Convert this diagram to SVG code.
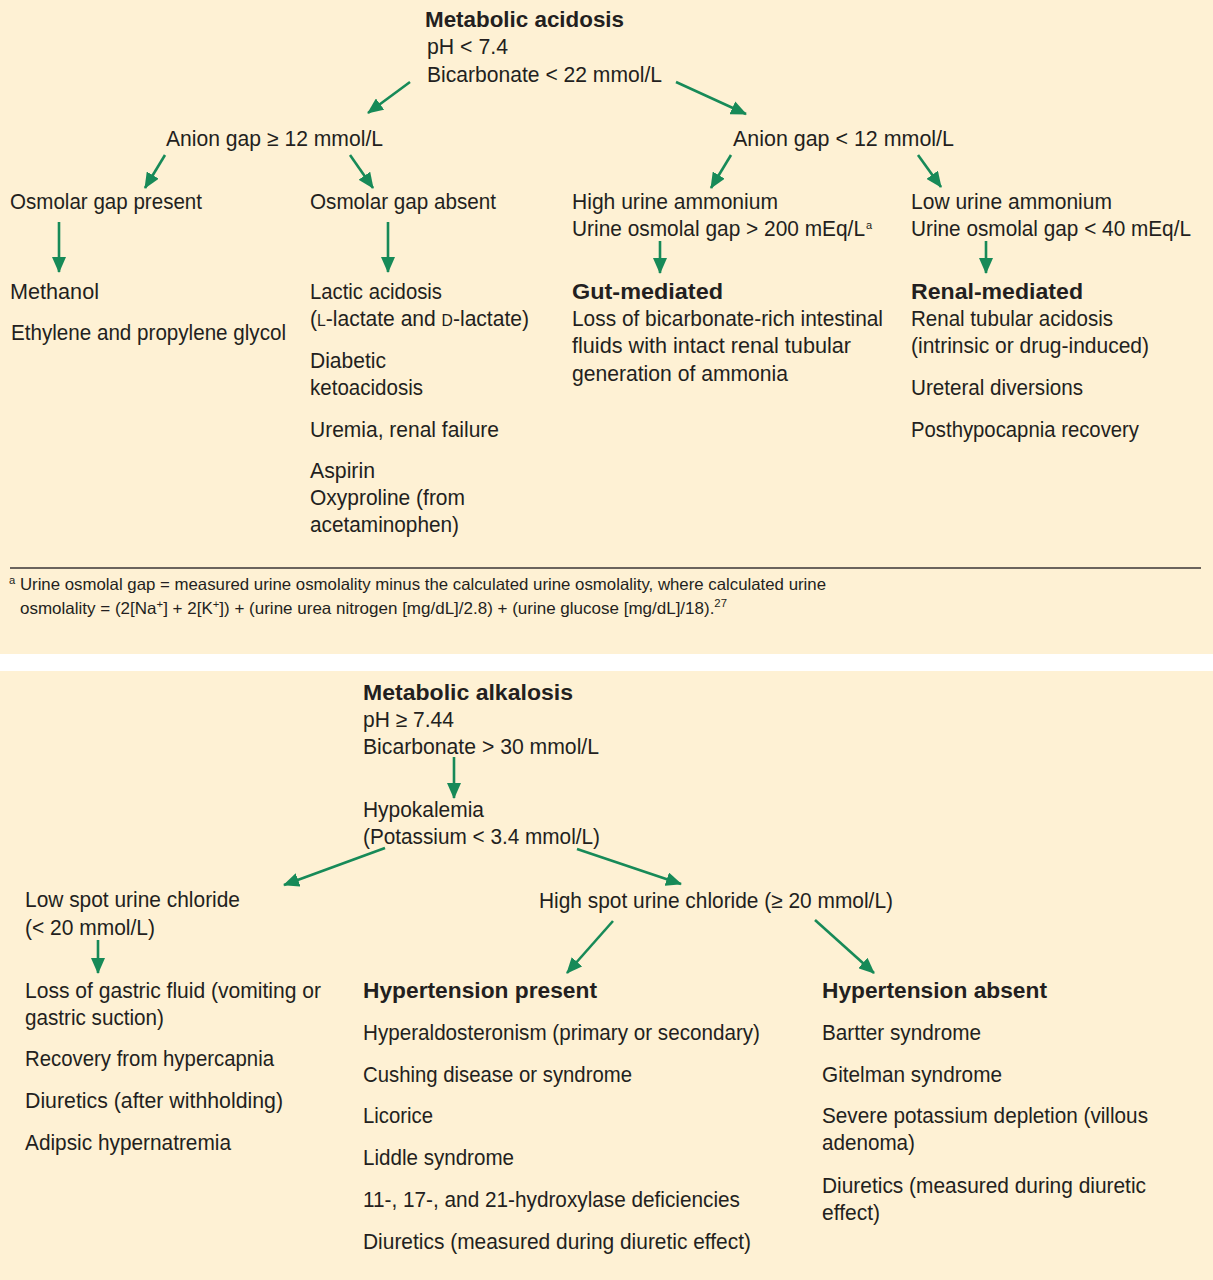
<svg xmlns="http://www.w3.org/2000/svg" width="1213" height="1280" viewBox="0 0 1213 1280">
<defs>
<style>
text{font-family:"Liberation Sans",Arial,sans-serif;font-size:21.5px;fill:#231f20;}
.b{font-weight:bold;}
.fn{font-size:16.5px;}
.sc{font-size:16px;}
.sup{font-size:11px;}
.c line{stroke:#178a58;stroke-width:2.6;marker-end:url(#ah);}
</style>
<marker id="ah" markerUnits="userSpaceOnUse" viewBox="0 0 16 14" markerWidth="16" markerHeight="14" refX="15" refY="7" orient="auto">
<path d="M0,0 L16,7 L0,14 Z" fill="#178a58"/>
</marker>
</defs>
<rect x="0" y="0" width="1213" height="1280" fill="#ffffff"/>
<rect x="0" y="0" width="1213" height="654" fill="#fef1d4"/>
<rect x="0" y="671" width="1213" height="609" fill="#fef1d4"/>

<g id="acidosis">
<text x="425" y="27" class="b" textLength="199" lengthAdjust="spacingAndGlyphs">Metabolic acidosis</text>
<text x="427" y="54" textLength="81" lengthAdjust="spacingAndGlyphs">pH &lt; 7.4</text>
<text x="427" y="82" textLength="235" lengthAdjust="spacingAndGlyphs">Bicarbonate &lt; 22 mmol/L</text>
</g>
<g id="ag-high"><text x="166" y="146" textLength="217" lengthAdjust="spacingAndGlyphs">Anion gap ≥ 12 mmol/L</text></g>
<g id="ag-low"><text x="733" y="146" textLength="221" lengthAdjust="spacingAndGlyphs">Anion gap &lt; 12 mmol/L</text></g>
<g id="osm-present"><text x="10" y="209" textLength="192" lengthAdjust="spacingAndGlyphs">Osmolar gap present</text></g>
<g id="osm-absent"><text x="310" y="209" textLength="186" lengthAdjust="spacingAndGlyphs">Osmolar gap absent</text></g>
<g id="high-nh4">
<text x="572" y="209" textLength="206" lengthAdjust="spacingAndGlyphs">High urine ammonium</text>
<text x="572" y="236" textLength="293" lengthAdjust="spacingAndGlyphs">Urine osmolal gap &gt; 200 mEq/L</text>
<text x="866" y="229" class="sup">a</text>
</g>
<g id="low-nh4">
<text x="911" y="209" textLength="201" lengthAdjust="spacingAndGlyphs">Low urine ammonium</text>
<text x="911" y="236" textLength="280" lengthAdjust="spacingAndGlyphs">Urine osmolal gap &lt; 40 mEq/L</text>
</g>
<g id="osm-present-list">
<text x="10" y="299" textLength="89" lengthAdjust="spacingAndGlyphs">Methanol</text>
<text x="11" y="340" textLength="275" lengthAdjust="spacingAndGlyphs">Ethylene and propylene glycol</text>
</g>
<g id="osm-absent-list">
<text x="310" y="299" textLength="132" lengthAdjust="spacingAndGlyphs">Lactic acidosis</text>
<text x="310" y="326" textLength="219" lengthAdjust="spacingAndGlyphs">(<tspan class="sc">L</tspan>-lactate and <tspan class="sc">D</tspan>-lactate)</text>
<text x="310" y="368" textLength="76" lengthAdjust="spacingAndGlyphs">Diabetic</text>
<text x="310" y="395" textLength="113" lengthAdjust="spacingAndGlyphs">ketoacidosis</text>
<text x="310" y="437" textLength="189" lengthAdjust="spacingAndGlyphs">Uremia, renal failure</text>
<text x="310" y="478" textLength="65" lengthAdjust="spacingAndGlyphs">Aspirin</text>
<text x="310" y="505" textLength="155" lengthAdjust="spacingAndGlyphs">Oxyproline (from</text>
<text x="310" y="532" textLength="149" lengthAdjust="spacingAndGlyphs">acetaminophen)</text>
</g>
<g id="gut">
<text x="572" y="299" class="b" textLength="151" lengthAdjust="spacingAndGlyphs">Gut-mediated</text>
<text x="572" y="326" textLength="311" lengthAdjust="spacingAndGlyphs">Loss of bicarbonate-rich intestinal</text>
<text x="572" y="353" textLength="279" lengthAdjust="spacingAndGlyphs">fluids with intact renal tubular</text>
<text x="572" y="381" textLength="216" lengthAdjust="spacingAndGlyphs">generation of ammonia</text>
</g>
<g id="renal">
<text x="911" y="299" class="b" textLength="172" lengthAdjust="spacingAndGlyphs">Renal-mediated</text>
<text x="911" y="326" textLength="202" lengthAdjust="spacingAndGlyphs">Renal tubular acidosis</text>
<text x="911" y="353" textLength="238" lengthAdjust="spacingAndGlyphs">(intrinsic or drug-induced)</text>
<text x="911" y="395" textLength="172" lengthAdjust="spacingAndGlyphs">Ureteral diversions</text>
<text x="911" y="437" textLength="228" lengthAdjust="spacingAndGlyphs">Posthypocapnia recovery</text>
</g>
<g id="footnote">
<line x1="10" y1="568" x2="1201" y2="568" stroke="#3a3536" stroke-width="1.3"/>
<text x="9" y="590" class="fn" textLength="817" lengthAdjust="spacingAndGlyphs"><tspan class="sup" dy="-6">a</tspan><tspan dy="6"> Urine osmolal gap = measured urine osmolality minus the calculated urine osmolality, where calculated urine</tspan></text>
<text x="20" y="614" class="fn" textLength="707" lengthAdjust="spacingAndGlyphs">osmolality = (2[Na<tspan class="sup" dy="-6">+</tspan><tspan dy="6">] + 2[K</tspan><tspan class="sup" dy="-6">+</tspan><tspan dy="6">]) + (urine urea nitrogen [mg/dL]/2.8) + (urine glucose [mg/dL]/18).</tspan><tspan class="sup" dy="-7">27</tspan></text>
</g>

<g id="alkalosis">
<text x="363" y="700" class="b" textLength="210" lengthAdjust="spacingAndGlyphs">Metabolic alkalosis</text>
<text x="363" y="727" textLength="91" lengthAdjust="spacingAndGlyphs">pH ≥ 7.44</text>
<text x="363" y="754" textLength="236" lengthAdjust="spacingAndGlyphs">Bicarbonate &gt; 30 mmol/L</text>
</g>
<g id="hypokalemia">
<text x="363" y="817" textLength="121" lengthAdjust="spacingAndGlyphs">Hypokalemia</text>
<text x="363" y="844" textLength="237" lengthAdjust="spacingAndGlyphs">(Potassium &lt; 3.4 mmol/L)</text>
</g>
<g id="low-cl">
<text x="25" y="907" textLength="215" lengthAdjust="spacingAndGlyphs">Low spot urine chloride</text>
<text x="25" y="935" textLength="130" lengthAdjust="spacingAndGlyphs">(&lt; 20 mmol/L)</text>
</g>
<g id="high-cl"><text x="539" y="908" textLength="354" lengthAdjust="spacingAndGlyphs">High spot urine chloride (≥ 20 mmol/L)</text></g>
<g id="low-cl-list">
<text x="25" y="998" textLength="296" lengthAdjust="spacingAndGlyphs">Loss of gastric fluid (vomiting or</text>
<text x="25" y="1025" textLength="139" lengthAdjust="spacingAndGlyphs">gastric suction)</text>
<text x="25" y="1066" textLength="249" lengthAdjust="spacingAndGlyphs">Recovery from hypercapnia</text>
<text x="25" y="1108" textLength="258" lengthAdjust="spacingAndGlyphs">Diuretics (after withholding)</text>
<text x="25" y="1150" textLength="206" lengthAdjust="spacingAndGlyphs">Adipsic hypernatremia</text>
</g>
<g id="htn-present">
<text x="363" y="998" class="b" textLength="234" lengthAdjust="spacingAndGlyphs">Hypertension present</text>
<text x="363" y="1040" textLength="397" lengthAdjust="spacingAndGlyphs">Hyperaldosteronism (primary or secondary)</text>
<text x="363" y="1082" textLength="269" lengthAdjust="spacingAndGlyphs">Cushing disease or syndrome</text>
<text x="363" y="1123" textLength="70" lengthAdjust="spacingAndGlyphs">Licorice</text>
<text x="363" y="1165" textLength="151" lengthAdjust="spacingAndGlyphs">Liddle syndrome</text>
<text x="363" y="1207" textLength="377" lengthAdjust="spacingAndGlyphs">11-, 17-, and 21-hydroxylase deficiencies</text>
<text x="363" y="1249" textLength="388" lengthAdjust="spacingAndGlyphs">Diuretics (measured during diuretic effect)</text>
</g>
<g id="htn-absent">
<text x="822" y="998" class="b" textLength="225" lengthAdjust="spacingAndGlyphs">Hypertension absent</text>
<text x="822" y="1040" textLength="159" lengthAdjust="spacingAndGlyphs">Bartter syndrome</text>
<text x="822" y="1082" textLength="180" lengthAdjust="spacingAndGlyphs">Gitelman syndrome</text>
<text x="822" y="1123" textLength="326" lengthAdjust="spacingAndGlyphs">Severe potassium depletion (villous</text>
<text x="822" y="1150" textLength="93" lengthAdjust="spacingAndGlyphs">adenoma)</text>
<text x="822" y="1193" textLength="324" lengthAdjust="spacingAndGlyphs">Diuretics (measured during diuretic</text>
<text x="822" y="1220" textLength="58" lengthAdjust="spacingAndGlyphs">effect)</text>
</g>

<g id="connectors" class="c">
<line x1="410" y1="82" x2="368" y2="113"/>
<line x1="676" y1="82" x2="746" y2="114"/>
<line x1="165" y1="155" x2="145" y2="188"/>
<line x1="350" y1="155" x2="373" y2="188"/>
<line x1="731" y1="155" x2="711" y2="188"/>
<line x1="918" y1="155" x2="941" y2="187"/>
<line x1="59" y1="222" x2="59" y2="272"/>
<line x1="388" y1="222" x2="388" y2="272"/>
<line x1="660" y1="241" x2="660" y2="273"/>
<line x1="986" y1="241" x2="986" y2="273"/>
<line x1="454" y1="757" x2="454" y2="798"/>
<line x1="385" y1="848" x2="284" y2="885"/>
<line x1="577" y1="849" x2="681" y2="884"/>
<line x1="613" y1="921" x2="567" y2="973"/>
<line x1="815" y1="920" x2="874" y2="973"/>
<line x1="98" y1="940" x2="98" y2="973"/>
</g>
</svg>
